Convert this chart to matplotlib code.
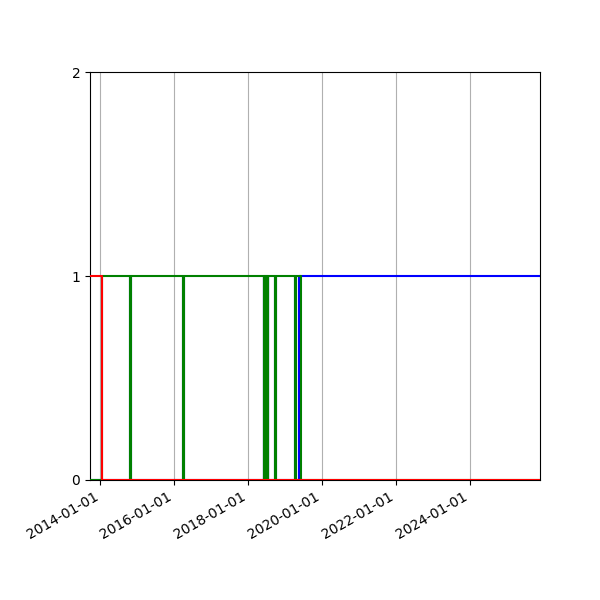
import matplotlib
matplotlib.use("Agg")
import matplotlib.pyplot as plt
import matplotlib.dates as mdates
import pandas as pd

start_date = "2013-09-20"
end_date = "2025-11-28"

red_dates = [start_date, "2014-01-12", end_date]
red_values = [1, 0, 0]

green_dates = [start_date, "2014-01-12",
               "2014-10-25", "2014-10-28",
               "2016-03-27", "2016-04-03",
               "2018-06-04", "2018-06-07", "2018-06-14", "2018-06-17",
               "2018-06-25", "2018-06-28", "2018-07-06", "2018-07-09",
               "2018-07-16", "2018-07-19",
               "2018-09-24", "2018-10-01",
               "2019-04-09", "2019-04-16",
               "2019-06-08", end_date]
green_values = [0, 1,
                0, 1,
                0, 1,
                0, 1, 0, 1,
                0, 1, 0, 1,
                0, 1,
                0, 1,
                0, 1,
                0, 0]

blue_dates = [start_date,
              "2014-10-25", "2014-10-28",
              "2016-03-27", "2016-04-03",
              "2018-06-03", "2018-06-07", "2018-06-14", "2018-06-17",
              "2018-06-25", "2018-06-28", "2018-07-06", "2018-07-09",
              "2018-07-16", "2018-07-19",
              "2018-09-24", "2018-10-01",
              "2019-04-08", "2019-04-16",
              "2019-05-19", end_date]
blue_values = [0,
               1, 0,
               1, 0,
               1, 0, 1, 0,
               1, 0, 1, 0,
               1, 0,
               1, 0,
               1, 0,
               1, 1]

fig, ax = plt.subplots(figsize=(6, 6), dpi=100)
ax.plot(pd.to_datetime(blue_dates), blue_values, color="blue", drawstyle="steps-post", lw=1.5, zorder=3)
ax.plot(pd.to_datetime(green_dates), green_values, color="green", drawstyle="steps-post", lw=1.5, zorder=3)
ax.plot(pd.to_datetime(red_dates), red_values, color="red", drawstyle="steps-post", lw=1.5, zorder=3)

ax.set_xlim(pd.Timestamp(start_date), pd.Timestamp(end_date))
ax.set_ylim(0, 2)
ax.set_yticks([0, 1, 2])
ax.xaxis.set_major_locator(mdates.YearLocator(2))
ax.xaxis.set_major_formatter(mdates.DateFormatter("%Y-%m-%d"))
ax.grid(axis="x")
fig.autofmt_xdate()
fig.subplots_adjust(left=0.15, right=0.9, top=0.88, bottom=0.2)
fig.savefig("out.png", dpi=100)
